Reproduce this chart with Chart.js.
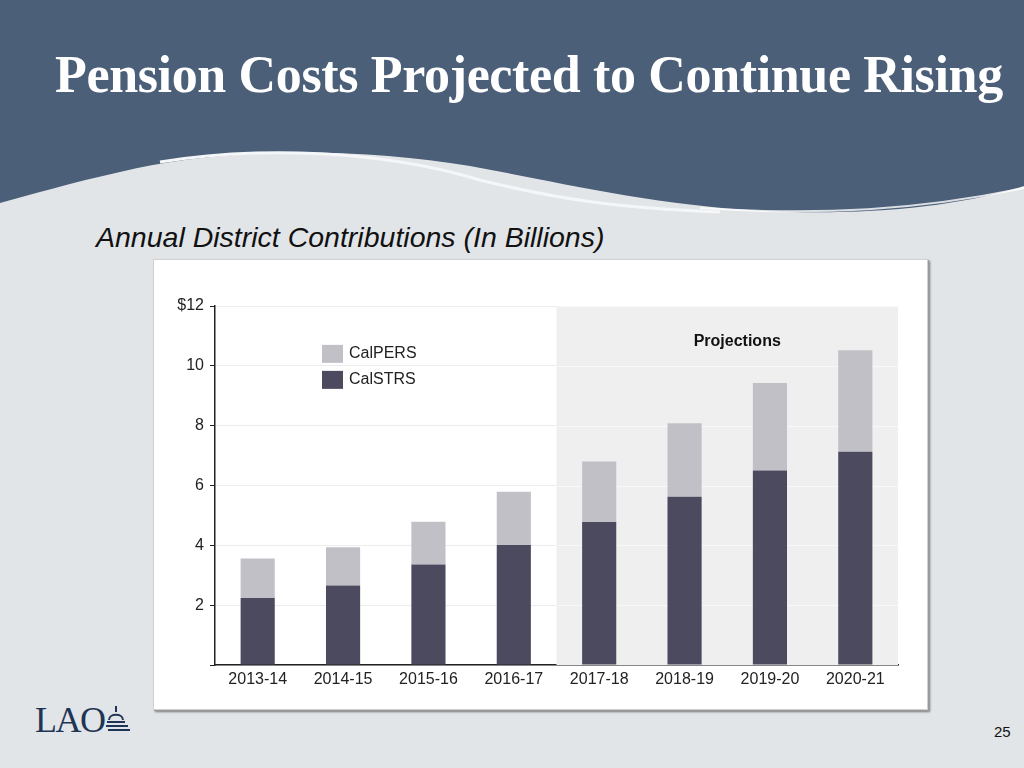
<!DOCTYPE html>
<html>
<head>
<meta charset="utf-8">
<script src="https://cdn.jsdelivr.net/npm/chart.js@4"></script>
<style>
  body { margin: 0; width: 1024px; height: 768px; background: #e2e5e8; position: relative; overflow: hidden; font-family: "Liberation Sans", Arial, sans-serif; }
  #wave { position: absolute; left: 0; top: 0; }
  h1 { position: absolute; left: 55px; top: 45px; margin: 0; font-family: "Liberation Serif", "Times New Roman", serif; font-weight: bold; font-size: 52px; color: #fff; letter-spacing: -0.35px; white-space: nowrap; }
  .subtitle { position: absolute; left: 96px; top: 221px; font-style: italic; font-size: 28.5px; color: #111; white-space: nowrap; }
  .panel { position: absolute; left: 153px; top: 259px; width: 775px; height: 451px; background: #fff; box-shadow: 1px 1px 0 #999, 2px 2px 2px #777; border: 1px solid #d0d0d0; box-sizing: border-box; }
  .logo { position: absolute; left: 35px; top: 699px; font-family: "Liberation Serif", serif; font-size: 36px; color: #1f3556; letter-spacing: -1.5px; }
  #dome { position: absolute; left: 104px; top: 704px; }
  .page { position: absolute; left: 994px; top: 723px; font-size: 15px; color: #111; }
</style>
</head>
<body>
<svg id="wave" width="1024" height="230">
  <path d="M0,0 H1024 V186 C960,206 880,214 790,212 C660,208 560,182 470,166 C360,148 230,146 120,172 C70,183 30,195 0,203 Z" fill="#4b5f78"/>
  <path d="M160,162 C260,146 380,150 480,180 C560,200 620,208 720,212" stroke="#f4f6f8" stroke-width="3" fill="none"/>
  <path d="M700,208 C820,216 920,210 1024,188" stroke="#ffffff" stroke-width="2" fill="none" opacity="0.8"/>
</svg>
<h1>Pension Costs Projected to Continue Rising</h1>
<div class="subtitle">Annual District Contributions (In Billions)</div>
<div class="panel"><canvas id="pensionChart" width="773" height="449"></canvas></div>
<div class="logo">LAO</div>
<svg id="dome" width="28" height="32">
  <g stroke="#1f3556" fill="none" stroke-width="2">
    <line x1="12" y1="2" x2="12" y2="8"/>
    <path d="M5,16 C5,9 19,9 19,16"/>
    <line x1="3" y1="18" x2="21" y2="18"/>
    <line x1="2" y1="22" x2="24" y2="22"/>
    <line x1="4" y1="26" x2="26" y2="26"/>
  </g>
</svg>
<div class="page">25</div>
<script>
const years = ['2013-14', '2014-15', '2015-16', '2016-17', '2017-18', '2018-19', '2019-20', '2020-21'];
const calSTRS = [2.24, 2.66, 3.36, 4.01, 4.78, 5.62, 6.5, 7.13];
const calPERS = [1.32, 1.28, 1.43, 1.78, 2.02, 2.46, 2.93, 3.39];
const firstProjection = 4;
const strsColor = '#4c4a5f';
const persColor = '#c2c0c7';

const projectionShade = {
    id: 'projectionShade',
    beforeDatasetsDraw(chart) {
        const { ctx, chartArea, scales } = chart;
        const x = scales.x;
        const left = (x.getPixelForValue(firstProjection - 1) + x.getPixelForValue(firstProjection)) / 2;
        ctx.save();
        ctx.fillStyle = '#efefef';
        ctx.fillRect(left, chartArea.top, chartArea.right - left, chartArea.bottom - chartArea.top);
        ctx.strokeStyle = '#f8f8f8';
        ctx.lineWidth = 1;
        scales.y.ticks.forEach(t => {
            if (t.value === 0) return;
            const y = Math.round(scales.y.getPixelForValue(t.value)) + 0.5;
            ctx.beginPath();
            ctx.moveTo(left, y);
            ctx.lineTo(chartArea.right, y);
            ctx.stroke();
        });
        ctx.fillStyle = '#111';
        ctx.font = 'bold 16px "Liberation Sans", Arial, sans-serif';
        ctx.textAlign = 'center';
        ctx.textBaseline = 'middle';
        ctx.fillText('Projections', (left + chartArea.right) / 2 + 10, scales.y.getPixelForValue(10.8));
        ctx.restore();
    },
    afterDraw(chart) {
        const { ctx, scales } = chart;
        const items = [[calPERS, persColor, 'CalPERS'], [calSTRS, strsColor, 'CalSTRS']];
        const lx = scales.x.left + 107;
        ctx.save();
        ctx.font = '16px "Liberation Sans", Arial, sans-serif';
        ctx.textBaseline = 'middle';
        items.forEach((it, i) => {
            const cy = scales.y.getPixelForValue(10.4) + i * 26;
            ctx.fillStyle = it[1];
            ctx.fillRect(lx, cy - 9, 21, 18);
            ctx.fillStyle = '#222';
            ctx.fillText(it[2], lx + 27, cy);
        });
        ctx.restore();
    }
};

new Chart(document.getElementById('pensionChart'), {
    type: 'bar',
    data: {
        labels: years,
        datasets: [
            { label: 'CalSTRS', data: calSTRS, backgroundColor: strsColor },
            { label: 'CalPERS', data: calPERS, backgroundColor: persColor }
        ]
    },
    options: {
        responsive: false,
        animation: false,
        categoryPercentage: 1,
        barPercentage: 0.4,
        layout: { padding: { top: 46, right: 29, bottom: 14, left: 0 } },
        plugins: { legend: { display: false }, tooltip: { enabled: false } },
        scales: {
            x: {
                stacked: true,
                grid: { drawOnChartArea: false, drawTicks: false },
                border: { display: true, color: '#222', width: 1.5 },
                ticks: { color: '#222', padding: 5, font: { size: 16, family: '"Liberation Sans", Arial, sans-serif' } },
                afterFit(scale) { scale.height = 30; }
            },
            y: {
                stacked: true,
                min: 0,
                max: 12,
                grid: { color: '#ececec', tickLength: 5, tickColor: '#222' },
                border: { display: true, color: '#222', width: 1.5 },
                ticks: {
                    stepSize: 2,
                    color: '#222',
                    padding: 6,
                    font: { size: 16, family: '"Liberation Sans", Arial, sans-serif' },
                    callback: v => v === 0 ? '' : (v === 12 ? '$12' : v)
                },
                afterFit(scale) { scale.width = 61; }
            }
        }
    },
    plugins: [projectionShade]
});
</script>
</body>
</html>
